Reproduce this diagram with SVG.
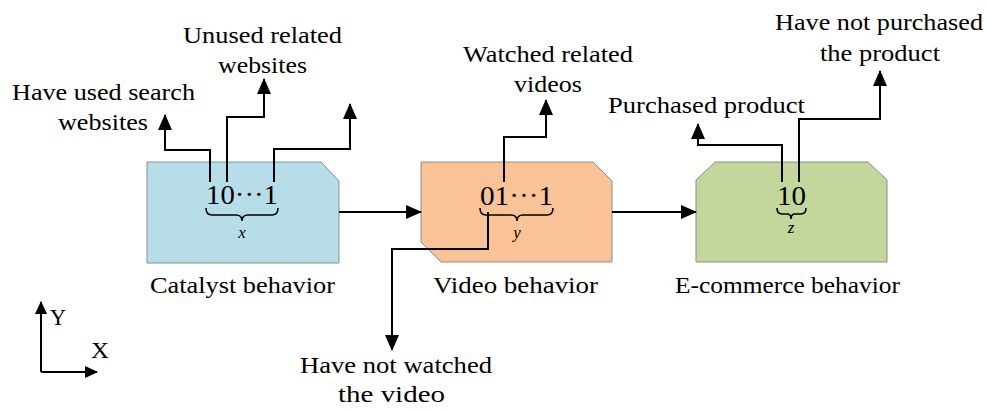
<svg xmlns="http://www.w3.org/2000/svg" width="988" height="412" viewBox="0 0 988 412">
<defs>
<style>
.box{stroke:#8c8c8c;stroke-width:1}
.t{font-size:22.5px;fill:#000}
.num{font-size:28px;fill:#000}
.var{font-size:17px;font-style:italic;fill:#000}
.ln{fill:none;stroke:#000;stroke-width:2}
.br{fill:none;stroke:#000;stroke-width:1.6}
</style>
<marker id="ah" markerUnits="userSpaceOnUse" markerWidth="16" markerHeight="14" refX="15" refY="7" orient="auto">
<path d="M0,0 L16,7 L0,14 z" fill="#000"/>
</marker>
<marker id="ahs" markerUnits="userSpaceOnUse" markerWidth="13" markerHeight="12" refX="12" refY="6" orient="auto">
<path d="M0,0 L13,6 L0,12 z" fill="#000"/>
</marker>
</defs>
<rect width="988" height="412" fill="#fff"/>

<g font-family="Liberation Serif, Times New Roman, Times, serif">
<g id="catalyst">
<polygon class="box" fill="#B7DEE8" points="147,162 321,162 339,181 339,263 147,263"/>
<text class="num" x="206" y="204" textLength="72" lengthAdjust="spacingAndGlyphs">10···1</text>
<path class="br" d="M206,208 Q206,215 212,215 L236,215 Q242,215 242,221 Q242,215 248,215 L272,215 Q278,215 278,208"/>
<text class="var" x="242" y="238" text-anchor="middle">x</text>
<text class="t" x="150" y="293" textLength="185" lengthAdjust="spacingAndGlyphs">Catalyst behavior</text>
</g>

<g id="video">
<polygon class="box" fill="#F9C397" points="421,162 593,162 612,181 612,262 441,262 421,242"/>
<text class="num" x="480" y="205" textLength="73" lengthAdjust="spacingAndGlyphs">01···1</text>
<path class="br" d="M480,208 Q480,215 486,215 L511,215 Q517,215 517,221 Q517,215 523,215 L547,215 Q553,215 553,208"/>
<text class="var" x="517" y="238" text-anchor="middle">y</text>
<text class="t" x="433" y="293" textLength="165" lengthAdjust="spacingAndGlyphs">Video behavior</text>
</g>

<g id="ecommerce">
<polygon class="box" fill="#C3D69B" points="696,180 715,162 868,162 887,180 887,262 696,262"/>
<text class="num" x="777" y="205" textLength="29" lengthAdjust="spacingAndGlyphs">10</text>
<path class="br" d="M777,208 Q777,214 782,214 L787,214 Q791,214 791,219 Q791,214 795,214 L801,214 Q806,214 806,208"/>
<text class="var" x="791" y="233" text-anchor="middle">z</text>
<text class="t" x="675" y="293" textLength="225" lengthAdjust="spacingAndGlyphs">E-commerce behavior</text>
</g>

<g id="labels">
<text class="t" x="12" y="100" textLength="183" lengthAdjust="spacingAndGlyphs">Have used search</text>
<text class="t" x="58" y="130" textLength="90" lengthAdjust="spacingAndGlyphs">websites</text>
<text class="t" x="183" y="43" textLength="159" lengthAdjust="spacingAndGlyphs">Unused related</text>
<text class="t" x="218" y="73" textLength="89" lengthAdjust="spacingAndGlyphs">websites</text>
<text class="t" x="463" y="62" textLength="170" lengthAdjust="spacingAndGlyphs">Watched related</text>
<text class="t" x="514" y="92" textLength="68" lengthAdjust="spacingAndGlyphs">videos</text>
<text class="t" x="608" y="113" textLength="197" lengthAdjust="spacingAndGlyphs">Purchased product</text>
<text class="t" x="775" y="30" textLength="208" lengthAdjust="spacingAndGlyphs">Have not purchased</text>
<text class="t" x="820" y="61" textLength="120" lengthAdjust="spacingAndGlyphs">the product</text>
<text class="t" x="300" y="373" textLength="192" lengthAdjust="spacingAndGlyphs">Have not watched</text>
<text class="t" x="338" y="402" textLength="107" lengthAdjust="spacingAndGlyphs">the video</text>
<text class="t" x="50" y="325" textLength="16" lengthAdjust="spacingAndGlyphs">Y</text>
<text class="t" x="91" y="358" textLength="18" lengthAdjust="spacingAndGlyphs">X</text>
</g>
</g>

<g id="connectors">
<polyline class="ln" points="210,182 210,150 165,150 165,115" marker-end="url(#ah)"/>
<polyline class="ln" points="227,182 227,117 264,117 264,79" marker-end="url(#ah)"/>
<polyline class="ln" points="274,182 274,149 350,149 350,104" marker-end="url(#ah)"/>
<polyline class="ln" points="339,212 421,212" marker-end="url(#ah)"/>
<polyline class="ln" points="504,182 504,137 546,137 546,100" marker-end="url(#ah)"/>
<polyline class="ln" points="488,212 488,249 392,249 392,350" marker-end="url(#ah)"/>
<polyline class="ln" points="612,212 696,212" marker-end="url(#ah)"/>
<polyline class="ln" points="782,182 782,145 698,145 698,124" marker-end="url(#ah)"/>
<polyline class="ln" points="799,182 799,119 880,119 880,71" marker-end="url(#ah)"/>
<polyline class="ln" points="41,372 41,302" marker-end="url(#ahs)"/>
<polyline class="ln" points="41,372 97,372" marker-end="url(#ahs)"/>
</g>
</svg>
